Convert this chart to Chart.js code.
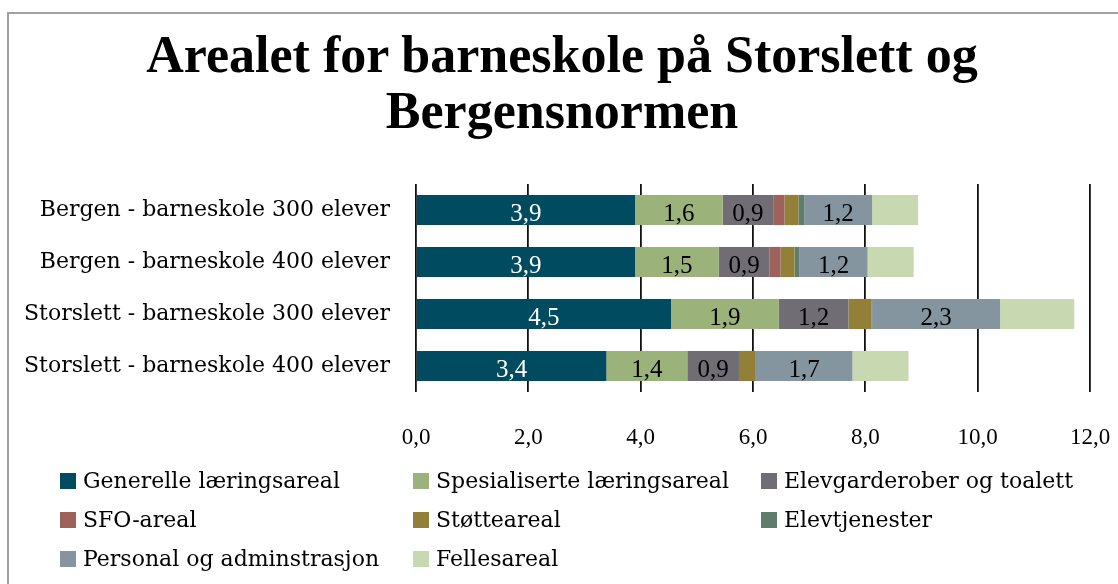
<!DOCTYPE html>
<html>
<head>
<meta charset="utf-8">
<script src="https://cdn.jsdelivr.net/npm/chart.js@4.4.1/dist/chart.umd.min.js"></script>
<style>
    body { margin: 0; background: #fff; overflow: hidden; font-family: "DejaVu Serif", serif; }
    #frame { position: absolute; left: 7px; top: 12px; width: 1130px; height: 600px; border: 2px solid #a0a0a0; }
    #title { position: absolute; left: 0; top: 27px; width: 1124px; text-align: center; font-family: "Liberation Serif", serif; font-weight: bold; font-size: 52px; line-height: 56px; color: #000; }
    #c { position: absolute; left: 0; top: 0; }
    .leg { position: absolute; font-size: 22px; color: #000; white-space: nowrap; line-height: 24px; }
    .leg i { position: absolute; left: -23px; top: 4px; width: 16px; height: 16px; }
</style>
</head>
<body>
<div id="frame"></div>
<div id="title">Arealet for barneskole på Storslett og<br>Bergensnormen</div>
<canvas id="c" width="1118" height="584"></canvas>
<div id="legend"></div>
<script>
// Data
const categories = [
    'Bergen - barneskole 300 elever',
    'Bergen - barneskole 400 elever',
    'Storslett - barneskole 300 elever',
    'Storslett - barneskole 400 elever'
];
const seriesNames = [
    'Generelle læringsareal', 'Spesialiserte læringsareal', 'Elevgarderober og toalett',
    'SFO-areal', 'Støtteareal', 'Elevtjenester',
    'Personal og adminstrasjon', 'Fellesareal'
];
const generelle = [3.9, 3.9, 4.54, 3.39];
const spesialiserte = [1.56, 1.49, 1.92, 1.44];
const garderober = [0.9, 0.9, 1.24, 0.92];
const sfo = [0.2, 0.2, 0, 0];
const stotte = [0.25, 0.25, 0.41, 0.3];
const elevtjenester = [0.1, 0.09, 0.01, 0];
const personal = [1.21, 1.21, 2.28, 1.72];
const felles = [0.82, 0.82, 1.32, 1.0];
const xTicks = [0, 2, 4, 6, 8, 10, 12];

const colors = ['#004b5f', '#9bb27a', '#706e74', '#9e615b', '#928039', '#5f7d6c', '#84959f', '#c8d8b1'];
const values = [generelle, spesialiserte, garderober, sfo, stotte, elevtjenester, personal, felles];
const labelled = [true, true, true, false, false, false, true, false];

const fmt = v => v.toFixed(1).replace('.', ',');

// Value labels inside the bars
const barLabels = {
    id: 'barLabels',
    afterDatasetsDraw(chart) {
        const ctx = chart.ctx;
        ctx.save();
        ctx.font = '25px "Liberation Serif", serif';
        ctx.textAlign = 'center';
        ctx.textBaseline = 'middle';
        chart.data.datasets.forEach((ds, i) => {
            if (!ds.showLabel) return;
            ctx.fillStyle = i === 0 ? '#ffffff' : '#000000';
            chart.getDatasetMeta(i).data.forEach((bar, j) => {
                const p = bar.getProps(['x', 'y', 'base'], true);
                ctx.fillText(fmt(ds.data[j]), (p.x + p.base) / 2, p.y + 4);
            });
        });
        ctx.restore();
    }
};

const chart = new Chart(document.getElementById('c'), {
    type: 'bar',
    data: {
        labels: categories,
        datasets: seriesNames.map((name, i) => ({
            label: name,
            data: values[i],
            backgroundColor: colors[i],
            borderWidth: 0,
            showLabel: labelled[i],
            barPercentage: 0.58,
            categoryPercentage: 1
        }))
    },
    options: {
        indexAxis: 'y',
        responsive: false,
        animation: false,
        layout: { padding: { top: 184, right: 28, left: 0, bottom: 0 } },
        plugins: {
            legend: { display: false },
            title: { display: false },
            tooltip: { enabled: false }
        },
        scales: {
            x: {
                stacked: true,
                min: 0,
                max: 12,
                afterBuildTicks: s => { s.ticks = xTicks.map(v => ({ value: v })); },
                afterFit: s => { s.height = 192; s.paddingLeft = 0; s.paddingRight = 0; },
                grid: { color: '#111', lineWidth: 1.8, drawTicks: false },
                border: { display: false },
                ticks: {
                    padding: 32,
                    color: '#000',
                    font: { family: '"Liberation Serif", serif', size: 23 },
                    callback: v => fmt(v)
                }
            },
            y: {
                stacked: true,
                afterFit: s => { s.width = 416; },
                grid: { display: false },
                border: { display: false },
                ticks: {
                    padding: 18,
                    color: '#000',
                    font: { family: '"DejaVu Serif", serif', size: 22 }
                }
            }
        }
    },
    plugins: [barLabels]
});

// Legend in three columns
const legCols = [83, 436, 784];
const legRows = [469, 508, 547];
const legend = document.getElementById('legend');
seriesNames.forEach((name, i) => {
    const el = document.createElement('div');
    el.className = 'leg';
    el.style.left = legCols[i % 3] + 'px';
    el.style.top = legRows[Math.floor(i / 3)] + 'px';
    el.innerHTML = '<i style="background:' + colors[i] + '"></i>' + name;
    legend.appendChild(el);
});
</script>
</body>
</html>
